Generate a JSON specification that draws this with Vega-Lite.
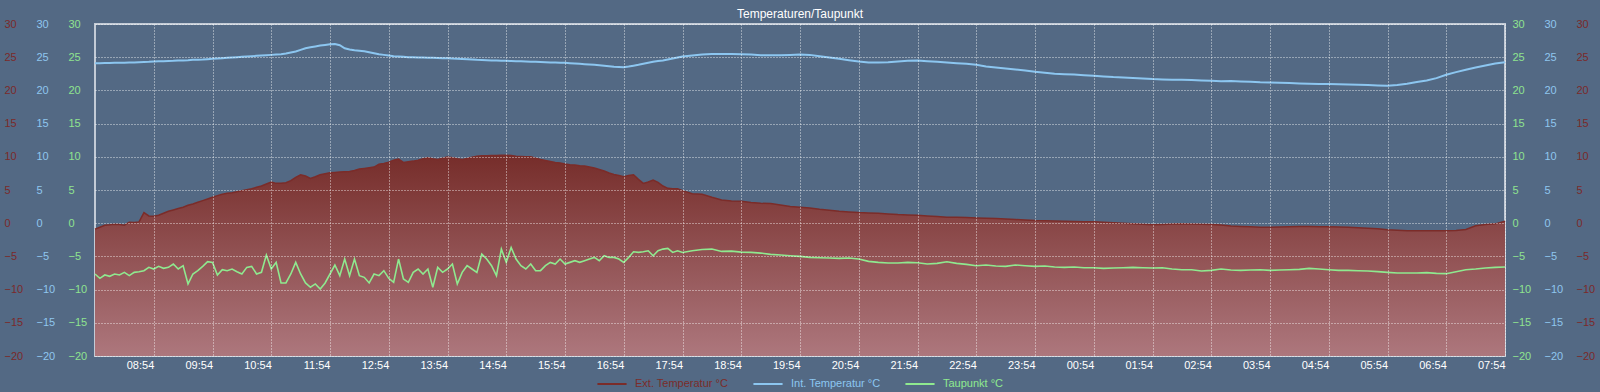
{
"$schema": "https://vega.github.io/schema/vega-lite/v6.json",
"width": 1410, "height": 332,
"autosize": {"type": "none"},
"padding": {"left": 95, "top": 24, "right": 95, "bottom": 36},
"background": "#536984",
"title": {"text": "Temperaturen/Taupunkt", "color": "#ffffff", "fontSize": 12, "fontWeight": "normal", "font": "Liberation Sans", "offset": -3, "anchor": "middle"},
"config": {
  "view": {"stroke": "#c3cbd6", "strokeWidth": 2},
  "font": "Liberation Sans",
  "axis": {"domain": false, "ticks": false, "tickSize": 0, "labelFontSize": 11, "labelFont": "Liberation Sans", "gridColor": "#ffffff", "gridOpacity": 0.8, "gridDash": [1, 2], "gridWidth": 1},
  "legend": {"layout": {"bottom": {"anchor": "middle"}}}
},
"data": {"values": [
{"t":"2024-01-01T07:54:00Z","ext":-0.9,"int":24.1,"dew":-7.65},
{"t":"2024-01-01T07:59:00Z","ext":-0.6,"int":24.1,"dew":-8.3},
{"t":"2024-01-01T08:04:00Z","ext":-0.3,"int":24.12,"dew":-7.8},
{"t":"2024-01-01T08:09:00Z","ext":-0.25,"int":24.12,"dew":-8.0},
{"t":"2024-01-01T08:14:00Z","ext":-0.15,"int":24.15,"dew":-7.65},
{"t":"2024-01-01T08:19:00Z","ext":-0.2,"int":24.15,"dew":-7.8},
{"t":"2024-01-01T08:24:00Z","ext":-0.3,"int":24.18,"dew":-7.4},
{"t":"2024-01-01T08:29:00Z","ext":0.15,"int":24.2,"dew":-7.9},
{"t":"2024-01-01T08:34:00Z","ext":0.1,"int":24.22,"dew":-7.4},
{"t":"2024-01-01T08:39:00Z","ext":0.2,"int":24.25,"dew":-7.3},
{"t":"2024-01-01T08:44:00Z","ext":1.6,"int":24.28,"dew":-7.15},
{"t":"2024-01-01T08:49:00Z","ext":1.1,"int":24.3,"dew":-6.65},
{"t":"2024-01-01T08:54:00Z","ext":1.05,"int":24.35,"dew":-6.9},
{"t":"2024-01-01T08:59:00Z","ext":1.2,"int":24.38,"dew":-6.5},
{"t":"2024-01-01T09:04:00Z","ext":1.5,"int":24.4,"dew":-6.8},
{"t":"2024-01-01T09:09:00Z","ext":1.8,"int":24.42,"dew":-6.65},
{"t":"2024-01-01T09:14:00Z","ext":2.0,"int":24.45,"dew":-6.15},
{"t":"2024-01-01T09:19:00Z","ext":2.2,"int":24.5,"dew":-6.9},
{"t":"2024-01-01T09:24:00Z","ext":2.4,"int":24.52,"dew":-6.4},
{"t":"2024-01-01T09:29:00Z","ext":2.7,"int":24.55,"dew":-9.15},
{"t":"2024-01-01T09:34:00Z","ext":2.9,"int":24.6,"dew":-7.65},
{"t":"2024-01-01T09:39:00Z","ext":3.15,"int":24.62,"dew":-7.15},
{"t":"2024-01-01T09:44:00Z","ext":3.4,"int":24.65,"dew":-6.5},
{"t":"2024-01-01T09:49:00Z","ext":3.65,"int":24.7,"dew":-5.8},
{"t":"2024-01-01T09:54:00Z","ext":3.9,"int":24.75,"dew":-5.9},
{"t":"2024-01-01T09:59:00Z","ext":4.15,"int":24.8,"dew":-7.8},
{"t":"2024-01-01T10:04:00Z","ext":4.35,"int":24.85,"dew":-7.0},
{"t":"2024-01-01T10:09:00Z","ext":4.5,"int":24.9,"dew":-7.15},
{"t":"2024-01-01T10:14:00Z","ext":4.6,"int":24.95,"dew":-6.9},
{"t":"2024-01-01T10:19:00Z","ext":4.75,"int":25.0,"dew":-7.3},
{"t":"2024-01-01T10:24:00Z","ext":4.9,"int":25.05,"dew":-7.65},
{"t":"2024-01-01T10:29:00Z","ext":5.05,"int":25.1,"dew":-6.65},
{"t":"2024-01-01T10:34:00Z","ext":5.2,"int":25.15,"dew":-6.5},
{"t":"2024-01-01T10:39:00Z","ext":5.4,"int":25.2,"dew":-7.65},
{"t":"2024-01-01T10:44:00Z","ext":5.6,"int":25.25,"dew":-7.4},
{"t":"2024-01-01T10:49:00Z","ext":5.9,"int":25.3,"dew":-4.8},
{"t":"2024-01-01T10:54:00Z","ext":6.2,"int":25.35,"dew":-6.9},
{"t":"2024-01-01T10:59:00Z","ext":6.0,"int":25.4,"dew":-5.9},
{"t":"2024-01-01T11:04:00Z","ext":6.0,"int":25.45,"dew":-9.0},
{"t":"2024-01-01T11:09:00Z","ext":6.1,"int":25.55,"dew":-9.0},
{"t":"2024-01-01T11:14:00Z","ext":6.4,"int":25.7,"dew":-7.65},
{"t":"2024-01-01T11:19:00Z","ext":6.9,"int":25.85,"dew":-5.9},
{"t":"2024-01-01T11:24:00Z","ext":7.3,"int":26.1,"dew":-7.65},
{"t":"2024-01-01T11:29:00Z","ext":7.1,"int":26.35,"dew":-9.0},
{"t":"2024-01-01T11:34:00Z","ext":6.75,"int":26.5,"dew":-9.65},
{"t":"2024-01-01T11:39:00Z","ext":7.0,"int":26.62,"dew":-9.15},
{"t":"2024-01-01T11:44:00Z","ext":7.3,"int":26.75,"dew":-9.9},
{"t":"2024-01-01T11:49:00Z","ext":7.45,"int":26.85,"dew":-9.0},
{"t":"2024-01-01T11:54:00Z","ext":7.6,"int":26.95,"dew":-7.65},
{"t":"2024-01-01T11:59:00Z","ext":7.65,"int":27.0,"dew":-6.3},
{"t":"2024-01-01T12:04:00Z","ext":7.7,"int":26.8,"dew":-7.9},
{"t":"2024-01-01T12:09:00Z","ext":7.75,"int":26.35,"dew":-5.4},
{"t":"2024-01-01T12:14:00Z","ext":7.8,"int":26.15,"dew":-7.9},
{"t":"2024-01-01T12:19:00Z","ext":7.95,"int":26.05,"dew":-5.4},
{"t":"2024-01-01T12:24:00Z","ext":8.15,"int":25.97,"dew":-7.9},
{"t":"2024-01-01T12:29:00Z","ext":8.25,"int":25.9,"dew":-8.15},
{"t":"2024-01-01T12:34:00Z","ext":8.35,"int":25.75,"dew":-9.0},
{"t":"2024-01-01T12:39:00Z","ext":8.45,"int":25.6,"dew":-7.65},
{"t":"2024-01-01T12:44:00Z","ext":8.9,"int":25.45,"dew":-7.9},
{"t":"2024-01-01T12:49:00Z","ext":9.0,"int":25.35,"dew":-7.15},
{"t":"2024-01-01T12:54:00Z","ext":9.2,"int":25.25,"dew":-8.3},
{"t":"2024-01-01T12:59:00Z","ext":9.5,"int":25.15,"dew":-8.9},
{"t":"2024-01-01T13:04:00Z","ext":9.65,"int":25.1,"dew":-5.4},
{"t":"2024-01-01T13:09:00Z","ext":9.15,"int":25.05,"dew":-8.4},
{"t":"2024-01-01T13:14:00Z","ext":9.25,"int":25.0,"dew":-8.9},
{"t":"2024-01-01T13:19:00Z","ext":9.35,"int":25.0,"dew":-7.4},
{"t":"2024-01-01T13:24:00Z","ext":9.5,"int":24.97,"dew":-6.9},
{"t":"2024-01-01T13:29:00Z","ext":9.7,"int":24.95,"dew":-7.65},
{"t":"2024-01-01T13:34:00Z","ext":9.85,"int":24.93,"dew":-6.9},
{"t":"2024-01-01T13:39:00Z","ext":9.7,"int":24.9,"dew":-9.65},
{"t":"2024-01-01T13:44:00Z","ext":9.6,"int":24.88,"dew":-6.65},
{"t":"2024-01-01T13:49:00Z","ext":9.8,"int":24.86,"dew":-7.4},
{"t":"2024-01-01T13:54:00Z","ext":9.95,"int":24.85,"dew":-6.9},
{"t":"2024-01-01T13:59:00Z","ext":9.85,"int":24.8,"dew":-6.15},
{"t":"2024-01-01T14:04:00Z","ext":9.7,"int":24.77,"dew":-9.15},
{"t":"2024-01-01T14:09:00Z","ext":9.6,"int":24.73,"dew":-7.4},
{"t":"2024-01-01T14:14:00Z","ext":9.75,"int":24.7,"dew":-6.4},
{"t":"2024-01-01T14:19:00Z","ext":9.95,"int":24.65,"dew":-6.9},
{"t":"2024-01-01T14:24:00Z","ext":10.1,"int":24.6,"dew":-7.4},
{"t":"2024-01-01T14:29:00Z","ext":10.15,"int":24.58,"dew":-4.65},
{"t":"2024-01-01T14:34:00Z","ext":10.15,"int":24.55,"dew":-5.4},
{"t":"2024-01-01T14:39:00Z","ext":10.2,"int":24.52,"dew":-6.4},
{"t":"2024-01-01T14:44:00Z","ext":10.2,"int":24.5,"dew":-7.9},
{"t":"2024-01-01T14:49:00Z","ext":10.25,"int":24.48,"dew":-3.9},
{"t":"2024-01-01T14:54:00Z","ext":10.25,"int":24.45,"dew":-5.9},
{"t":"2024-01-01T14:59:00Z","ext":10.2,"int":24.42,"dew":-3.65},
{"t":"2024-01-01T15:04:00Z","ext":10.1,"int":24.4,"dew":-5.4},
{"t":"2024-01-01T15:09:00Z","ext":10.05,"int":24.38,"dew":-6.4},
{"t":"2024-01-01T15:14:00Z","ext":10.0,"int":24.35,"dew":-6.9},
{"t":"2024-01-01T15:19:00Z","ext":10.0,"int":24.33,"dew":-6.15},
{"t":"2024-01-01T15:24:00Z","ext":9.8,"int":24.3,"dew":-7.15},
{"t":"2024-01-01T15:29:00Z","ext":9.6,"int":24.28,"dew":-7.15},
{"t":"2024-01-01T15:34:00Z","ext":9.45,"int":24.25,"dew":-6.4},
{"t":"2024-01-01T15:39:00Z","ext":9.3,"int":24.22,"dew":-5.9},
{"t":"2024-01-01T15:44:00Z","ext":9.15,"int":24.2,"dew":-6.15},
{"t":"2024-01-01T15:49:00Z","ext":9.05,"int":24.17,"dew":-5.4},
{"t":"2024-01-01T15:54:00Z","ext":8.9,"int":24.15,"dew":-6.15},
{"t":"2024-01-01T15:59:00Z","ext":8.8,"int":24.1,"dew":-5.9},
{"t":"2024-01-01T16:04:00Z","ext":8.75,"int":24.05,"dew":-5.65},
{"t":"2024-01-01T16:09:00Z","ext":8.65,"int":24.0,"dew":-5.9},
{"t":"2024-01-01T16:14:00Z","ext":8.6,"int":23.95,"dew":-5.65},
{"t":"2024-01-01T16:19:00Z","ext":8.45,"int":23.9,"dew":-5.4},
{"t":"2024-01-01T16:24:00Z","ext":8.3,"int":23.85,"dew":-5.15},
{"t":"2024-01-01T16:29:00Z","ext":8.1,"int":23.78,"dew":-5.65},
{"t":"2024-01-01T16:34:00Z","ext":7.85,"int":23.7,"dew":-4.9},
{"t":"2024-01-01T16:39:00Z","ext":7.55,"int":23.62,"dew":-5.15},
{"t":"2024-01-01T16:44:00Z","ext":7.35,"int":23.55,"dew":-5.15},
{"t":"2024-01-01T16:49:00Z","ext":7.2,"int":23.52,"dew":-5.4},
{"t":"2024-01-01T16:54:00Z","ext":7.0,"int":23.5,"dew":-5.9},
{"t":"2024-01-01T16:59:00Z","ext":7.2,"int":23.6,"dew":-5.15},
{"t":"2024-01-01T17:04:00Z","ext":7.3,"int":23.72,"dew":-4.3},
{"t":"2024-01-01T17:09:00Z","ext":6.6,"int":23.85,"dew":-4.4},
{"t":"2024-01-01T17:14:00Z","ext":6.0,"int":24.0,"dew":-4.3},
{"t":"2024-01-01T17:19:00Z","ext":6.2,"int":24.15,"dew":-4.15},
{"t":"2024-01-01T17:24:00Z","ext":6.5,"int":24.3,"dew":-4.9},
{"t":"2024-01-01T17:29:00Z","ext":6.15,"int":24.42,"dew":-4.15},
{"t":"2024-01-01T17:34:00Z","ext":5.6,"int":24.5,"dew":-3.9},
{"t":"2024-01-01T17:39:00Z","ext":5.25,"int":24.65,"dew":-3.8},
{"t":"2024-01-01T17:44:00Z","ext":5.2,"int":24.8,"dew":-4.4},
{"t":"2024-01-01T17:49:00Z","ext":5.2,"int":24.95,"dew":-4.15},
{"t":"2024-01-01T17:54:00Z","ext":4.9,"int":25.1,"dew":-4.4},
{"t":"2024-01-01T18:04:00Z","ext":4.45,"int":25.25,"dew":-4.15},
{"t":"2024-01-01T18:14:00Z","ext":4.35,"int":25.42,"dew":-3.95},
{"t":"2024-01-01T18:24:00Z","ext":3.9,"int":25.48,"dew":-3.9},
{"t":"2024-01-01T18:34:00Z","ext":3.5,"int":25.5,"dew":-4.25},
{"t":"2024-01-01T18:44:00Z","ext":3.35,"int":25.5,"dew":-4.2},
{"t":"2024-01-01T18:54:00Z","ext":3.3,"int":25.45,"dew":-4.35},
{"t":"2024-01-01T19:04:00Z","ext":3.1,"int":25.4,"dew":-4.4},
{"t":"2024-01-01T19:14:00Z","ext":3.0,"int":25.3,"dew":-4.5},
{"t":"2024-01-01T19:24:00Z","ext":2.95,"int":25.3,"dew":-4.7},
{"t":"2024-01-01T19:34:00Z","ext":2.75,"int":25.3,"dew":-4.8},
{"t":"2024-01-01T19:44:00Z","ext":2.5,"int":25.35,"dew":-4.9},
{"t":"2024-01-01T19:54:00Z","ext":2.4,"int":25.4,"dew":-5.0},
{"t":"2024-01-01T20:04:00Z","ext":2.3,"int":25.35,"dew":-5.15},
{"t":"2024-01-01T20:14:00Z","ext":2.1,"int":25.15,"dew":-5.2},
{"t":"2024-01-01T20:24:00Z","ext":1.95,"int":24.95,"dew":-5.25},
{"t":"2024-01-01T20:34:00Z","ext":1.8,"int":24.75,"dew":-5.3},
{"t":"2024-01-01T20:44:00Z","ext":1.7,"int":24.55,"dew":-5.25},
{"t":"2024-01-01T20:54:00Z","ext":1.6,"int":24.35,"dew":-5.4},
{"t":"2024-01-01T21:04:00Z","ext":1.55,"int":24.2,"dew":-5.75},
{"t":"2024-01-01T21:14:00Z","ext":1.5,"int":24.2,"dew":-5.9},
{"t":"2024-01-01T21:24:00Z","ext":1.4,"int":24.25,"dew":-6.0},
{"t":"2024-01-01T21:34:00Z","ext":1.3,"int":24.35,"dew":-6.0},
{"t":"2024-01-01T21:44:00Z","ext":1.25,"int":24.45,"dew":-5.9},
{"t":"2024-01-01T21:54:00Z","ext":1.2,"int":24.5,"dew":-5.95},
{"t":"2024-01-01T22:04:00Z","ext":1.1,"int":24.4,"dew":-6.15},
{"t":"2024-01-01T22:14:00Z","ext":1.0,"int":24.3,"dew":-6.05},
{"t":"2024-01-01T22:24:00Z","ext":0.9,"int":24.2,"dew":-5.8},
{"t":"2024-01-01T22:34:00Z","ext":0.88,"int":24.1,"dew":-6.05},
{"t":"2024-01-01T22:44:00Z","ext":0.85,"int":24.0,"dew":-6.2},
{"t":"2024-01-01T22:54:00Z","ext":0.8,"int":23.85,"dew":-6.4},
{"t":"2024-01-01T23:04:00Z","ext":0.75,"int":23.6,"dew":-6.3},
{"t":"2024-01-01T23:14:00Z","ext":0.7,"int":23.45,"dew":-6.45},
{"t":"2024-01-01T23:24:00Z","ext":0.62,"int":23.3,"dew":-6.5},
{"t":"2024-01-01T23:34:00Z","ext":0.55,"int":23.15,"dew":-6.3},
{"t":"2024-01-01T23:44:00Z","ext":0.47,"int":23.0,"dew":-6.4},
{"t":"2024-01-01T23:54:00Z","ext":0.4,"int":22.8,"dew":-6.5},
{"t":"2024-01-02T00:04:00Z","ext":0.37,"int":22.65,"dew":-6.45},
{"t":"2024-01-02T00:14:00Z","ext":0.33,"int":22.5,"dew":-6.6},
{"t":"2024-01-02T00:24:00Z","ext":0.3,"int":22.45,"dew":-6.65},
{"t":"2024-01-02T00:34:00Z","ext":0.27,"int":22.38,"dew":-6.6},
{"t":"2024-01-02T00:44:00Z","ext":0.23,"int":22.3,"dew":-6.7},
{"t":"2024-01-02T00:54:00Z","ext":0.2,"int":22.2,"dew":-6.7},
{"t":"2024-01-02T01:04:00Z","ext":0.13,"int":22.1,"dew":-6.8},
{"t":"2024-01-02T01:14:00Z","ext":0.06,"int":22.0,"dew":-6.75},
{"t":"2024-01-02T01:24:00Z","ext":0.0,"int":21.95,"dew":-6.7},
{"t":"2024-01-02T01:34:00Z","ext":-0.08,"int":21.88,"dew":-6.65},
{"t":"2024-01-02T01:44:00Z","ext":-0.17,"int":21.8,"dew":-6.7},
{"t":"2024-01-02T01:54:00Z","ext":-0.25,"int":21.7,"dew":-6.75},
{"t":"2024-01-02T02:04:00Z","ext":-0.2,"int":21.65,"dew":-6.7},
{"t":"2024-01-02T02:14:00Z","ext":-0.13,"int":21.62,"dew":-6.9},
{"t":"2024-01-02T02:24:00Z","ext":-0.1,"int":21.6,"dew":-7.0},
{"t":"2024-01-02T02:34:00Z","ext":-0.13,"int":21.55,"dew":-7.0},
{"t":"2024-01-02T02:44:00Z","ext":-0.17,"int":21.5,"dew":-7.2},
{"t":"2024-01-02T02:54:00Z","ext":-0.2,"int":21.45,"dew":-7.1},
{"t":"2024-01-02T03:04:00Z","ext":-0.28,"int":21.38,"dew":-6.9},
{"t":"2024-01-02T03:14:00Z","ext":-0.42,"int":21.42,"dew":-7.05},
{"t":"2024-01-02T03:24:00Z","ext":-0.5,"int":21.35,"dew":-7.1},
{"t":"2024-01-02T03:34:00Z","ext":-0.55,"int":21.3,"dew":-7.05},
{"t":"2024-01-02T03:44:00Z","ext":-0.6,"int":21.22,"dew":-7.0},
{"t":"2024-01-02T03:54:00Z","ext":-0.62,"int":21.2,"dew":-7.1},
{"t":"2024-01-02T04:04:00Z","ext":-0.58,"int":21.15,"dew":-7.05},
{"t":"2024-01-02T04:14:00Z","ext":-0.55,"int":21.1,"dew":-7.0},
{"t":"2024-01-02T04:24:00Z","ext":-0.5,"int":21.05,"dew":-6.95},
{"t":"2024-01-02T04:34:00Z","ext":-0.5,"int":21.0,"dew":-6.8},
{"t":"2024-01-02T04:44:00Z","ext":-0.52,"int":20.98,"dew":-6.9},
{"t":"2024-01-02T04:54:00Z","ext":-0.55,"int":20.95,"dew":-7.0},
{"t":"2024-01-02T05:04:00Z","ext":-0.58,"int":20.92,"dew":-7.1},
{"t":"2024-01-02T05:14:00Z","ext":-0.62,"int":20.88,"dew":-7.1},
{"t":"2024-01-02T05:24:00Z","ext":-0.68,"int":20.85,"dew":-7.15},
{"t":"2024-01-02T05:34:00Z","ext":-0.75,"int":20.8,"dew":-7.2},
{"t":"2024-01-02T05:44:00Z","ext":-0.82,"int":20.75,"dew":-7.3},
{"t":"2024-01-02T05:54:00Z","ext":-1.0,"int":20.7,"dew":-7.4},
{"t":"2024-01-02T06:04:00Z","ext":-1.05,"int":20.8,"dew":-7.5},
{"t":"2024-01-02T06:14:00Z","ext":-1.12,"int":21.0,"dew":-7.5},
{"t":"2024-01-02T06:24:00Z","ext":-1.15,"int":21.25,"dew":-7.5},
{"t":"2024-01-02T06:34:00Z","ext":-1.15,"int":21.5,"dew":-7.45},
{"t":"2024-01-02T06:44:00Z","ext":-1.15,"int":21.85,"dew":-7.55},
{"t":"2024-01-02T06:54:00Z","ext":-1.15,"int":22.35,"dew":-7.6},
{"t":"2024-01-02T07:04:00Z","ext":-1.1,"int":22.75,"dew":-7.3},
{"t":"2024-01-02T07:14:00Z","ext":-0.95,"int":23.1,"dew":-7.0},
{"t":"2024-01-02T07:24:00Z","ext":-0.4,"int":23.45,"dew":-6.9},
{"t":"2024-01-02T07:34:00Z","ext":-0.2,"int":23.75,"dew":-6.75},
{"t":"2024-01-02T07:44:00Z","ext":-0.1,"int":24.05,"dew":-6.65},
{"t":"2024-01-02T07:54:00Z","ext":0.3,"int":24.25,"dew":-6.6}
]},
"encoding": {
  "x": {"field": "t", "type": "temporal",
    "scale": {"type": "utc", "domain": [1704095640000, 1704182040000], "nice": false},
    "axis": {"title": null, "values": [1704099240000,1704102840000,1704106440000,1704110040000,1704113640000,1704117240000,1704120840000,1704124440000,1704128040000,1704131640000,1704135240000,1704138840000,1704142440000,1704146040000,1704149640000,1704153240000,1704156840000,1704160440000,1704164040000,1704167640000,1704171240000,1704174840000,1704178440000,1704182040000],
      "labelExpr": "utcFormat(datum.value, '%H:%M')", "labelAlign": "right", "labelBaseline": "top", "labelPadding": 3, "labelColor": "#ffffff", "labelFlush": false, "labelOverlap": false, "grid": true, "zindex": 1}}
},
"layer": [
  {"mark": {"type": "area", "fill": {"gradient": "linear", "x1": 0, "y1": 0, "x2": 0, "y2": 1, "stops": [{"offset": 0, "color": "#762d2a"}, {"offset": 1, "color": "#ad777d"}]}},
   "encoding": {
     "y": {"field": "ext", "type": "quantitative", "scale": {"domain": [-20, 30], "nice": false, "zero": false},
       "axis": {"title": null, "orient": "left", "values": [-20,-15,-10,-5,0,5,10,15,20,25,30], "labelColor": "#7b2a2a", "labelAlign": "left", "labelPadding": 91, "grid": false}},
     "y2": {"datum": -20}}},
  {"mark": {"type": "line", "strokeWidth": 1.5},
   "encoding": {
     "y": {"field": "ext", "type": "quantitative", "scale": {"domain": [-20, 30], "nice": false, "zero": false},
       "axis": {"title": null, "orient": "right", "values": [-20,-15,-10,-5,0,5,10,15,20,25,30], "labelColor": "#7b2a2a", "labelAlign": "left", "labelPadding": 71, "grid": false}},
     "color": {"datum": "Ext. Temperatur °C", "type": "nominal",
       "scale": {"domain": ["Ext. Temperatur °C", "Int. Temperatur °C", "Taupunkt °C"], "range": ["#7b2c29", "#8cc6f0", "#8fe98f"]},
       "legend": {"orient": "bottom", "direction": "horizontal", "title": null, "symbolType": "stroke", "symbolSize": 850, "symbolStrokeWidth": 2, "labelFontSize": 11, "labelFont": "Liberation Sans", "columnPadding": 20, "labelOffset": 7, "offset": -2,
         "encode": {"labels": {"update": {"fill": {"scale": "color", "field": "value"}}}}}}}},
  {"mark": {"type": "line", "strokeWidth": 2},
   "encoding": {
     "y": {"field": "int", "type": "quantitative", "scale": {"domain": [-20, 30], "nice": false, "zero": false},
       "axis": {"title": null, "orient": "left", "values": [-20,-15,-10,-5,0,5,10,15,20,25,30], "labelColor": "#8fc6ee", "labelAlign": "left", "labelPadding": 59, "grid": false}},
     "color": {"datum": "Int. Temperatur °C", "type": "nominal",
       "scale": {"domain": ["Ext. Temperatur °C", "Int. Temperatur °C", "Taupunkt °C"], "range": ["#7b2c29", "#8cc6f0", "#8fe98f"]},
       "legend": {"orient": "bottom", "direction": "horizontal", "title": null, "symbolType": "stroke", "symbolSize": 850, "symbolStrokeWidth": 2, "labelFontSize": 11, "labelFont": "Liberation Sans", "columnPadding": 20, "labelOffset": 7, "offset": -2,
         "encode": {"labels": {"update": {"fill": {"scale": "color", "field": "value"}}}}}}}},
  {"mark": {"type": "line", "strokeWidth": 1.6},
   "encoding": {
     "y": {"field": "dew", "type": "quantitative", "scale": {"domain": [-20, 30], "nice": false, "zero": false},
       "axis": {"title": null, "orient": "left", "values": [-20,-15,-10,-5,0,5,10,15,20,25,30], "labelColor": "#8fe38f", "labelAlign": "left", "labelPadding": 27, "grid": true, "zindex": 1}},
     "color": {"datum": "Taupunkt °C", "type": "nominal",
       "scale": {"domain": ["Ext. Temperatur °C", "Int. Temperatur °C", "Taupunkt °C"], "range": ["#7b2c29", "#8cc6f0", "#8fe98f"]},
       "legend": {"orient": "bottom", "direction": "horizontal", "title": null, "symbolType": "stroke", "symbolSize": 850, "symbolStrokeWidth": 2, "labelFontSize": 11, "labelFont": "Liberation Sans", "columnPadding": 20, "labelOffset": 7, "offset": -2,
         "encode": {"labels": {"update": {"fill": {"scale": "color", "field": "value"}}}}}}}},
  {"mark": {"type": "line", "opacity": 0},
   "encoding": {
     "y": {"field": "int", "type": "quantitative", "scale": {"domain": [-20, 30], "nice": false, "zero": false},
       "axis": {"title": null, "orient": "right", "values": [-20,-15,-10,-5,0,5,10,15,20,25,30], "labelColor": "#8fc6ee", "labelAlign": "left", "labelPadding": 39, "grid": false}}}},
  {"mark": {"type": "line", "opacity": 0},
   "encoding": {
     "y": {"field": "dew", "type": "quantitative", "scale": {"domain": [-20, 30], "nice": false, "zero": false},
       "axis": {"title": null, "orient": "right", "values": [-20,-15,-10,-5,0,5,10,15,20,25,30], "labelColor": "#8fe38f", "labelAlign": "left", "labelPadding": 7, "grid": false}}}}
],
"resolve": {"scale": {"y": "independent"}}
}
